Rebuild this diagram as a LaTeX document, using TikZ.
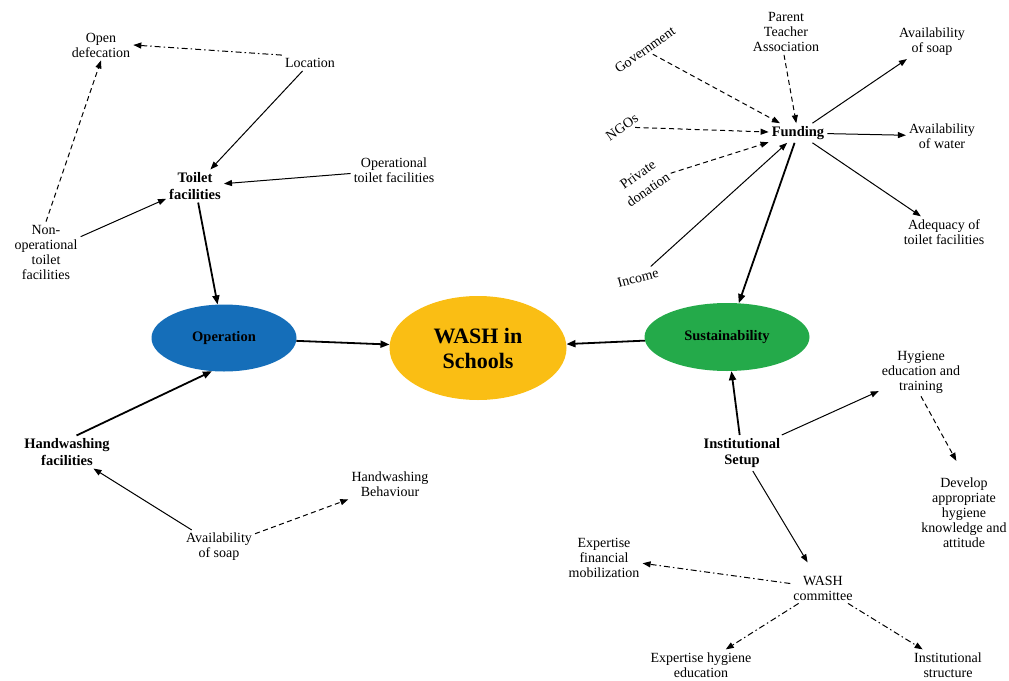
\documentclass[tikz,border=0pt]{standalone}
\usepackage{fontspec}
\setmainfont{Liberation Serif}
\usetikzlibrary{arrows.meta}
\usetikzlibrary{shapes.geometric}
\definecolor{opblue}{RGB}{21,110,185}
\definecolor{washyellow}{RGB}{250,190,20}
\definecolor{susgreen}{RGB}{36,170,74}
\tikzset{
  lbl/.style={align=center, font=\fontsize{14}{15}\selectfont, inner sep=3pt},
  key/.style={align=center, font=\bfseries\fontsize{14.5}{16.5}\selectfont, inner sep=3pt},
  hub/.style={ellipse, inner sep=0pt, font=\bfseries\fontsize{14.5}{17}\selectfont},
  arr/.style={-{Triangle[length=8pt,width=6pt]}, line width=1pt},
  bigarr/.style={-{Triangle[length=9pt,width=7pt]}, line width=1.8pt},
  dsh/.style={arr, dash pattern=on 5pt off 3.5pt},
  dshdot/.style={arr, dash pattern=on 6pt off 3pt on 1.5pt off 3pt},
}

\begin{document}
\begin{tikzpicture}[x=1pt,y=-1pt]
   \useasboundingbox (0,0) rectangle (1009,680);
   \node[hub, fill=washyellow, minimum width=177pt, minimum height=104pt, align=center,
     font=\bfseries\fontsize{22}{25}\selectfont] (wash) at (478,348) {WASH in\\Schools};
   \node[hub, fill=opblue, minimum width=145pt, minimum height=67pt] (op) at (224,338) {Operation};
   \node[hub, fill=susgreen, minimum width=165pt, minimum height=68pt] (sus) at (727,337) {Sustainability};

   \node[lbl] (opendef) at (101,45) {Open\\defecation};
   \node[lbl] (loc) at (310,63) {Location};
   \node[key] (toilet) at (195,186) {Toilet\\facilities};
   \node[lbl] (optoilet) at (394,170) {Operational\\toilet facilities};
   \node[lbl] (nonop) at (46,252) {Non-\\operational\\toilet\\facilities};
   \node[key] (handfac) at (67,452) {Handwashing\\facilities};
   \node[lbl] (handbeh) at (390,484) {Handwashing\\Behaviour};
   \node[lbl] (soapa) at (219,547) {Availability\\of soap};

   \node[key] (fund) at (798,133) {Funding};
   \node[lbl, rotate=35] (gov) at (645,50) {Government};
   \node[lbl] (pta) at (786,32) {Parent\\Teacher\\Association};
   \node[lbl, rotate=35] (ngo) at (622,127) {NGOs};
   \node[lbl, rotate=35, font=\fontsize{14}{18}\selectfont] (priv) at (643,182) {Private\\donation};
   \node[lbl, rotate=15] (income) at (638,278) {Income};
   \node[lbl] (soapb) at (932,42) {Availability\\of soap};
   \node[lbl] (water) at (942,136) {Availability\\of water};
   \node[lbl] (adeq) at (944,232) {Adequacy of\\toilet facilities};

   \node[key] (inst) at (742,453) {Institutional\\Setup};
   \node[lbl] (hyged) at (921,372) {Hygiene\\education and\\training};
   \node[lbl] (develop) at (964,513) {Develop\\appropriate\\hygiene\\knowledge and\\attitude};
   \node[lbl] (washcom) at (823,588) {WASH\\committee};
   \node[lbl] (expfin) at (604,558) {Expertise\\financial\\mobilization};
   \node[lbl] (exphyg) at (701,665) {Expertise hygiene\\education};
   \node[lbl] (inststr) at (948,665) {Institutional\\structure};

   \draw[dshdot] (loc.north west) -- (opendef.east);
   \draw[dsh] (nonop.north) -- (opendef.south);
   \draw[arr] (loc) -- (toilet);
   \draw[arr] (optoilet) -- (toilet);
   \draw[arr] (nonop) -- (toilet);
   \draw[bigarr] (toilet) -- (op);
   \draw[bigarr] (op) -- (wash);
   \draw[bigarr] (handfac.60) -- (op.250);
   \draw[arr] (soapa) -- (handfac);
   \draw[dsh] (soapa) -- (handbeh);

   \draw[dsh] (gov) -- (fund);
   \draw[dsh] (pta.265) -- (fund);
   \draw[dsh] (ngo) -- (fund);
   \draw[dsh] (priv) -- (fund);
   \draw[arr] (income) -- (fund);
   \draw[arr] (fund) -- (soapb);
   \draw[arr] (fund) -- (water);
   \draw[arr] (fund) -- (adeq);
   \draw[bigarr] (fund) -- (sus);
   \draw[bigarr] (sus) -- (wash);

   \draw[bigarr] (inst) -- (sus);
   \draw[arr] (inst) -- (hyged);
   \draw[dsh, shorten >=16pt] (hyged.south) -- (develop.north);
   \draw[arr, shorten >=12pt] (inst) -- (washcom);
   \draw[dshdot] (washcom) -- (expfin);
   \draw[dshdot] (washcom) -- (exphyg);
   \draw[dshdot] (washcom) -- (inststr);
\end{tikzpicture}
\end{document}
